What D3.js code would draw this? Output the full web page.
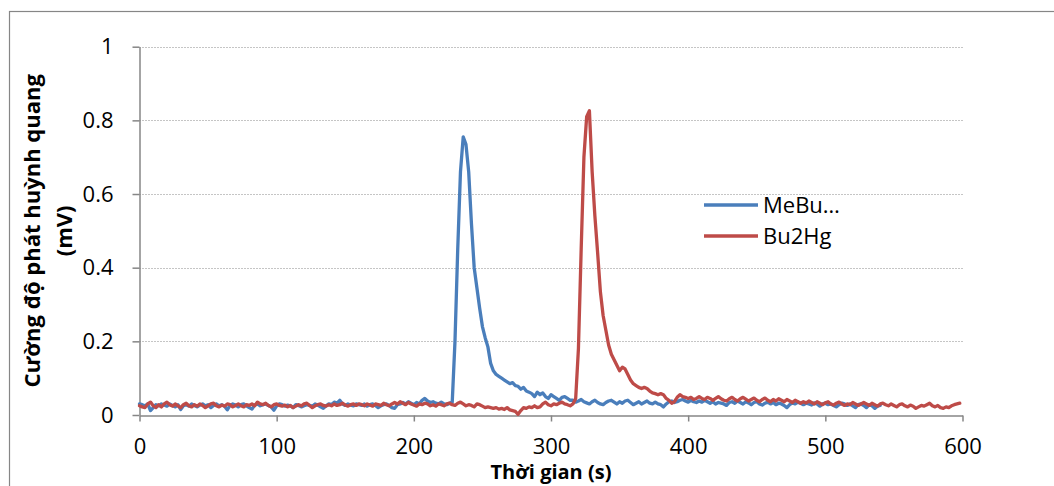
<!DOCTYPE html>
<html>
<head>
<meta charset="utf-8">
<script src="https://cdn.jsdelivr.net/npm/d3@7"></script>
<style>
  html, body { margin: 0; padding: 0; background: #fff; }
  svg { display: block; font-family: "Open Sans", "Noto Sans", sans-serif; }
</style>
</head>
<body>
<div id="chart"></div>
<script>
// sampling interval of both traces, seconds
const sampleStep = 2;

const seriesNames = ['MeBu…', 'Bu2Hg'];
const xTicks = [0, 100, 200, 300, 400, 500, 600];
const yTicks = [0, 0.2, 0.4, 0.6, 0.8, 1];

// MeBu... trace, t = 0..540 s
const meBuValues = [
  .030,.028,.025,.030,.012,.020,.028,.025,.030,.027, // 0
  .024,.030,.026,.022,.028,.015,.025,.028,.024,.030, // 20
  .026,.022,.027,.030,.025,.028,.020,.026,.030,.025, // 40
  .028,.024,.014,.026,.030,.027,.022,.028,.030,.025, // 60
  .020,.016,.027,.030,.025,.028,.030,.026,.022,.013, // 80
  .025,.030,.028,.024,.027,.025,.020,.028,.026,.022, // 100
  .025,.028,.026,.024,.030,.027,.022,.018,.025,.030, // 120
  .028,.035,.032,.040,.030,.026,.030,.027,.025,.030, // 140
  .028,.026,.030,.024,.028,.030,.026,.020,.025,.028, // 160
  .030,.026,.020,.018,.028,.030,.034,.030,.036,.032, // 180
  .028,.034,.030,.040,.045,.038,.034,.036,.032,.030, // 200
  .035,.030,.028,.032,.035,.200,.450,.660,.755,.735, // 220
  .660,.520,.400,.345,.290,.240,.210,.185,.140,.120, // 240
  .110,.105,.100,.095,.090,.085,.088,.080,.078,.070, // 260
  .075,.065,.062,.058,.050,.062,.055,.060,.050,.045, // 280
  .055,.050,.045,.040,.048,.050,.045,.040,.040,.035, // 300
  .038,.042,.036,.033,.030,.036,.040,.034,.030,.028, // 320
  .034,.038,.040,.035,.030,.036,.032,.038,.040,.034, // 340
  .028,.032,.036,.030,.034,.038,.032,.030,.035,.030, // 360
  .028,.022,.030,.036,.038,.034,.036,.040,.042,.038, // 380
  .035,.040,.036,.034,.038,.035,.040,.036,.032,.036, // 400
  .030,.034,.032,.030,.026,.034,.036,.032,.038,.034, // 420
  .030,.036,.033,.028,.034,.036,.030,.027,.032,.035, // 440
  .030,.034,.028,.032,.030,.026,.020,.028,.033,.030, // 460
  .035,.032,.028,.032,.030,.027,.033,.030,.024,.030, // 480
  .032,.028,.030,.026,.022,.028,.032,.030,.026,.030, // 500
  .025,.020,.028,.030,.026,.020,.028,.025,.018,.024, // 520
  .026                                               // 540
];

// Bu2Hg trace, t = 0..598 s
const bu2HgValues = [
  .025,.022,.020,.030,.035,.025,.020,.028,.022,.030, // 0
  .035,.028,.024,.030,.025,.020,.028,.032,.025,.022, // 20
  .028,.024,.030,.026,.020,.025,.030,.032,.025,.022, // 40
  .027,.024,.030,.028,.022,.026,.030,.025,.022,.028, // 60
  .026,.030,.025,.035,.030,.028,.032,.026,.022,.028, // 80
  .030,.026,.024,.027,.022,.026,.020,.024,.028,.025, // 100
  .030,.032,.026,.020,.025,.028,.030,.026,.024,.028, // 120
  .025,.030,.026,.028,.032,.027,.024,.028,.030,.026, // 140
  .030,.028,.025,.030,.027,.024,.030,.028,.026,.032, // 160
  .028,.025,.030,.034,.030,.036,.032,.028,.034,.030, // 180
  .027,.024,.030,.028,.032,.030,.025,.028,.024,.030, // 200
  .028,.025,.030,.032,.028,.026,.032,.035,.030,.025, // 220
  .028,.026,.022,.030,.028,.024,.020,.022,.020,.018, // 240
  .020,.016,.018,.015,.020,.014,.012,.010,.002,.012, // 260
  .020,.018,.022,.020,.025,.020,.022,.030,.035,.028, // 280
  .025,.030,.028,.032,.035,.030,.028,.025,.030,.045, // 300
  .180,.450,.700,.810,.826,.660,.540,.440,.335,.270, // 320
  .230,.190,.165,.150,.135,.120,.130,.125,.110,.095, // 340
  .085,.080,.075,.072,.075,.072,.065,.060,.058,.055, // 360
  .058,.055,.045,.040,.032,.036,.048,.055,.050,.048, // 380
  .045,.048,.042,.045,.050,.045,.042,.048,.045,.040, // 400
  .045,.050,.044,.040,.038,.044,.048,.042,.038,.044, // 420
  .048,.043,.038,.042,.046,.040,.036,.042,.046,.040, // 440
  .036,.042,.038,.044,.040,.036,.042,.038,.034,.040, // 460
  .036,.032,.036,.033,.038,.034,.030,.036,.032,.028, // 480
  .033,.036,.030,.027,.032,.035,.030,.026,.030,.028, // 500
  .034,.030,.026,.030,.034,.030,.026,.032,.028,.024, // 520
  .030,.032,.028,.025,.030,.026,.022,.028,.030,.025, // 540
  .022,.027,.024,.018,.022,.026,.024,.028,.032,.025, // 560
  .022,.026,.020,.018,.022,.020,.025,.028,.030,.032  // 580
];

const colors = ['#4a7ebb', '#be4b48'];
const axisGray = '#868686';

const width = 1054;
const height = 486;
const margin = { top: 46.7, right: 91.5, bottom: 71, left: 139.5 };

const svg = d3.select('#chart')
  .append('svg')
  .attr('width', width)
  .attr('height', height)
  .attr('viewBox', [0, 0, width, height]);

// chart area border (runs off the right and bottom edges)
svg.append('rect')
  .attr('x', 9.5)
  .attr('y', 11.5)
  .attr('width', 1100)
  .attr('height', 600)
  .style('fill', 'none')
  .style('stroke', axisGray)
  .style('stroke-width', 1.2);

const x = d3.scaleLinear()
  .domain([0, 600])
  .range([margin.left, width - margin.right]);

const y = d3.scaleLinear()
  .domain([0, 1])
  .range([height - margin.bottom, margin.top]);

// horizontal dotted gridlines
svg.append('g')
  .selectAll('line')
  .data(yTicks.filter(d => d > 0))
  .enter()
  .append('line')
  .attr('x1', x(0))
  .attr('x2', x(600))
  .attr('y1', d => Math.round(y(d)) + 0.5)
  .attr('y2', d => Math.round(y(d)) + 0.5)
  .style('stroke', '#8a8a8a')
  .style('stroke-width', 1)
  .style('stroke-dasharray', '1,2');

const xAxis = svg.append('g')
  .attr('transform', `translate(0,${Math.round(y(0)) + 0.5})`)
  .call(d3.axisBottom(x).tickValues(xTicks).tickSize(6).tickPadding(17).tickSizeOuter(0));

const yAxis = svg.append('g')
  .attr('transform', `translate(${Math.round(x(0)) - 0.5},0)`)
  .call(d3.axisLeft(y).tickValues(yTicks).tickSize(7).tickPadding(19).tickSizeOuter(0)
    .tickFormat(d => d === 0 || d === 1 ? String(d) : d3.format('.1f')(d)));

[xAxis, yAxis].forEach(g => {
  g.select('.domain').style('stroke', axisGray).style('stroke-width', 1.5);
  g.selectAll('.tick line').style('stroke', axisGray).style('stroke-width', 1.5);
  g.selectAll('.tick text')
    .style('font-family', '"Open Sans", sans-serif')
    .style('font-size', '22px')
    .style('fill', '#000');
});

// traces
const meBuData = meBuValues.map((v, i) => ({ t: i * sampleStep, v }));
const bu2HgData = bu2HgValues.map((v, i) => ({ t: i * sampleStep, v }));

const line = d3.line()
  .x(d => x(d.t))
  .y(d => y(d.v));

[meBuData, bu2HgData].forEach((data, i) => {
  svg.append('path')
    .datum(data)
    .attr('d', line)
    .style('fill', 'none')
    .style('stroke', colors[i])
    .style('stroke-width', 3.3)
    .style('stroke-linejoin', 'round')
    .style('stroke-linecap', 'round');
});

// legend
const legend = svg.append('g');
const legendY = [205, 236];
seriesNames.forEach((name, i) => {
  legend.append('line')
    .attr('x1', 704)
    .attr('x2', 758)
    .attr('y1', legendY[i])
    .attr('y2', legendY[i])
    .style('stroke', colors[i])
    .style('stroke-width', 3.3);
  legend.append('text')
    .attr('x', 763)
    .attr('y', legendY[i])
    .attr('dy', '0.35em')
    .style('font-size', '22px')
    .text(name);
});

// axis titles
svg.append('text')
  .attr('x', (x(0) + x(600)) / 2)
  .attr('y', 479)
  .attr('text-anchor', 'middle')
  .style('font-size', '20px')
  .style('font-weight', 'bold')
  .text('Thời gian (s)');

const yTitle = svg.append('text')
  .attr('transform', `translate(0,${(y(0) + y(1)) / 2}) rotate(-90)`)
  .attr('text-anchor', 'middle')
  .style('font-size', '22px')
  .style('font-weight', 'bold');
yTitle.append('tspan').attr('x', 0).attr('y', 40).text('Cường độ phát huỳnh quang');
yTitle.append('tspan').attr('x', 0).attr('y', 72).text('(mV)');
</script>
</body>
</html>
